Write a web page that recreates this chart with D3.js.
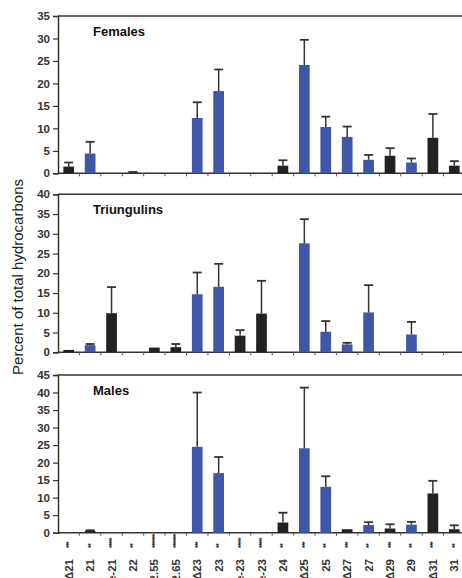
<!DOCTYPE html>
<html><head><meta charset="utf-8">
<script src="https://cdn.jsdelivr.net/npm/d3@7"></script>
<style>body{margin:0;background:#fff;} svg{display:block;}</style>
</head><body>
<svg id="c" width="462" height="578"></svg>
<script>
const categories = ["Δ21","21","2-Me-21","22","C22.55","C22.65","Δ23","23","11-Me-23","3-Me-23","24","Δ25","25","Δ27","27","Δ29","29","Δ31","31"];
const significance = ["***","**","*****","**","*******","*******","***","**","*****","*****","**","***","**","***","**","***","**","***","**"];
const panelNames = ["Females","Triungulins","Males"];
const yMaxes = [35, 40, 45];
const femalesValues = [1.5,4.4,0,0.2,0,0,12.3,18.3,0,0,1.7,24.1,10.3,8.1,3.0,3.9,2.4,7.9,1.7];
const femalesErrors = [0.9,2.6,0,0.1,0,0,3.5,4.8,0,0,1.2,5.6,2.3,2.3,1.1,1.7,0.9,5.3,1.0];
const femalesColors = ["K","B","K","K","K","K","B","B","K","K","K","B","B","B","B","K","B","K","K"];
const triungulinsValues = [0.6,1.8,9.9,0,1.2,1.3,14.7,16.6,4.2,9.8,0,27.6,5.2,2.0,10.1,0,4.5,0,0];
const triungulinsErrors = [0,0.3,6.6,0,0,0.8,5.5,5.8,1.4,8.3,0,6.1,2.7,0.4,6.9,0,3.2,0,0];
const triungulinsColors = ["K","B","K","K","K","K","B","B","K","K","K","B","B","B","B","K","B","K","K"];
const malesValues = [0,0.5,0,0,0,0,24.5,17.0,0,0,2.9,24.1,13.1,1.0,2.2,1.2,2.3,11.2,1.0];
const malesErrors = [0,0.2,0,0,0,0,15.5,4.6,0,0,2.8,17.3,3.0,0,0.8,1.2,0.8,3.6,1.1];
const malesColors = ["K","K","K","K","K","K","B","B","K","K","K","B","B","K","B","K","B","K","K"];
const yLabel = "Percent of total hydrocarbons";

const panels = [
  {name: panelNames[0], max: yMaxes[0], v: femalesValues, e: femalesErrors, c: femalesColors},
  {name: panelNames[1], max: yMaxes[1], v: triungulinsValues, e: triungulinsErrors, c: triungulinsColors},
  {name: panelNames[2], max: yMaxes[2], v: malesValues, e: malesErrors, c: malesColors}
];
const layout = [{top:16, bottom:173.3},{top:194.3, bottom:352.3},{top:375, bottom:532.7}];
const colorMap = {B:"#4057a7", K:"#222222"};
const left = 58, right = 465;
const font = "Liberation Sans, Arial, sans-serif";

const svg = d3.select("#c");
const x = d3.scaleBand().domain(categories).range([left, right]).paddingInner(0.5).paddingOuter(0.25);
const step = x.step();

panels.forEach((p, pi) => {
  const L = layout[pi];
  const y = d3.scaleLinear().domain([0, p.max]).range([L.bottom, L.top]);
  const g = svg.append("g");
  g.append("line").attr("x1", left).attr("x2", right).attr("y1", L.top).attr("y2", L.top)
    .attr("stroke", "#333").attr("stroke-width", 1.5);
  g.append("line").attr("x1", right).attr("x2", right).attr("y1", L.top).attr("y2", L.bottom)
    .attr("stroke", "#333").attr("stroke-width", 1.5);
  const ya = g.append("g").attr("transform", `translate(${left},0)`)
    .call(d3.axisLeft(y).tickValues(d3.range(0, p.max + 1, 5)).tickSize(5).tickPadding(3));
  ya.select(".domain").attr("stroke", "#333").attr("stroke-width", 1.5);
  ya.selectAll(".tick line").attr("stroke", "#333").attr("stroke-width", 1.2);
  ya.selectAll(".tick text").attr("font-family", font).attr("font-size", 11.5)
    .attr("font-weight", "bold").attr("fill", "#333");
  g.append("line").attr("x1", left).attr("x2", right).attr("y1", L.bottom).attr("y2", L.bottom)
    .attr("stroke", "#333").attr("stroke-width", 1.5);
  g.selectAll(".xt").data(categories.slice(1)).enter().append("line")
    .attr("x1", d => x(d) + x.bandwidth()/2 - step/2).attr("x2", d => x(d) + x.bandwidth()/2 - step/2)
    .attr("y1", L.bottom).attr("y2", L.bottom + 3).attr("stroke", "#555").attr("stroke-width", 1);
  const data = categories.map((c, i) => ({c, v: p.v[i], e: p.e[i], col: p.c[i]}));
  g.selectAll(".bar").data(data.filter(d => d.v > 0)).enter().append("rect")
    .attr("x", d => x(d.c)).attr("width", x.bandwidth())
    .attr("y", d => y(d.v)).attr("height", d => L.bottom - y(d.v))
    .attr("fill", d => colorMap[d.col]);
  const eb = data.filter(d => d.e > 0);
  g.selectAll(".ev").data(eb).enter().append("line")
    .attr("x1", d => x(d.c) + x.bandwidth()/2).attr("x2", d => x(d.c) + x.bandwidth()/2)
    .attr("y1", d => y(d.v)).attr("y2", d => y(d.v + d.e))
    .attr("stroke", "#333").attr("stroke-width", 1.5);
  g.selectAll(".ec").data(eb).enter().append("line")
    .attr("x1", d => x(d.c) + x.bandwidth()/2 - 4.5).attr("x2", d => x(d.c) + x.bandwidth()/2 + 4.5)
    .attr("y1", d => y(d.v + d.e)).attr("y2", d => y(d.v + d.e))
    .attr("stroke", "#333").attr("stroke-width", 1.8);
  g.append("text").attr("x", 93).attr("y", L.top + 20).text(p.name)
    .attr("font-family", font).attr("font-size", 13).attr("font-weight", "bold").attr("fill", "#111");
});

svg.selectAll(".xl").data(categories).enter().append("text")
  .attr("transform", d => `translate(${x(d) + x.bandwidth()/2},559) rotate(-90)`)
  .attr("text-anchor", "end").attr("dominant-baseline", "central")
  .attr("font-family", font).attr("font-size", 11.5).attr("font-weight", "bold").attr("fill", "#333")
  .text(d => d);
svg.selectAll(".xs").data(categories).enter().append("text")
  .attr("transform", (d) => `translate(${x(d) + x.bandwidth()/2},548) rotate(-90)`)
  .attr("text-anchor", "start").attr("dominant-baseline", "central")
  .attr("font-family", font).attr("font-size", 7).attr("font-weight", "bold").attr("fill", "#222")
  .attr("letter-spacing", -0.8)
  .text((d, i) => significance[i]);

svg.append("text").attr("transform", "translate(23,277) rotate(-90)")
  .attr("text-anchor", "middle").attr("font-family", font).attr("font-size", 15).attr("fill", "#222")
  .text(yLabel);
</script>
</body></html>
